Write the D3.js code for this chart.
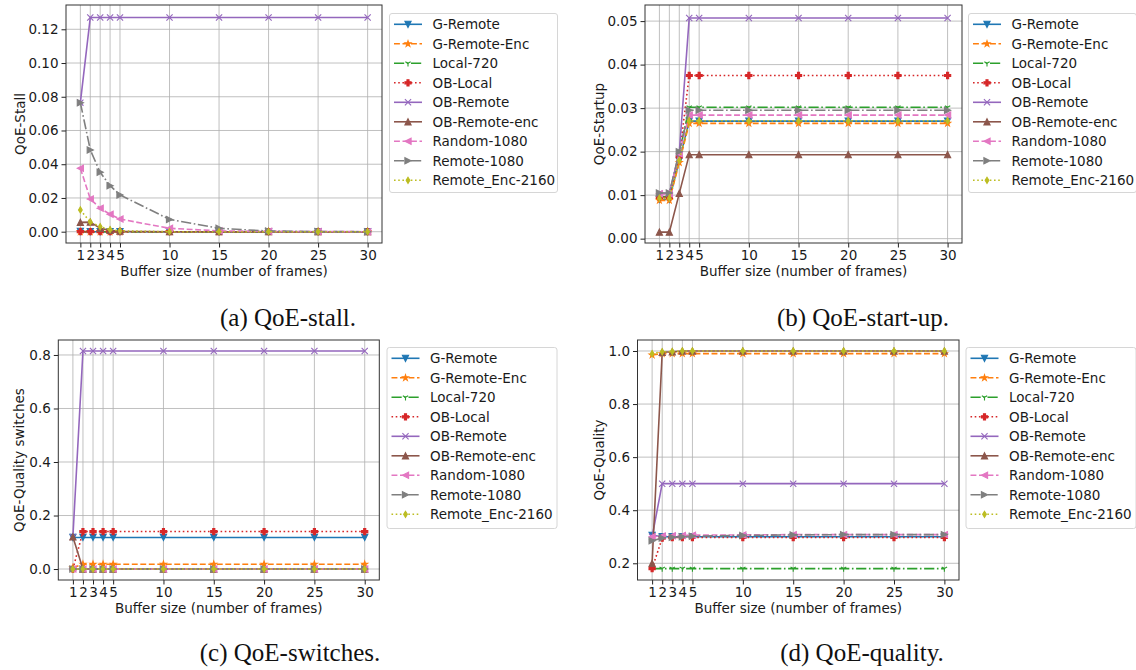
<!DOCTYPE html>
<html><head><meta charset="utf-8">
<script src="https://cdn.jsdelivr.net/npm/d3@7"></script>
<style>
html,body{margin:0;padding:0;background:#fff;}
svg{display:block;}
text{font-family:"DejaVu Sans",sans-serif;}
.cap{font-family:"Liberation Serif","DejaVu Serif",serif;}
</style></head>
<body>
<svg id="chart" width="1136" height="670"></svg>
<script>
// ---------------- data ----------------
const xValues = [1, 2, 3, 4, 5, 10, 15, 20, 25, 30];
const seriesNames = ['G-Remote','G-Remote-Enc','Local-720','OB-Local','OB-Remote','OB-Remote-enc','Random-1080','Remote-1080','Remote_Enc-2160'];

// QoE-stall (order = seriesNames)
const stallValues = [
  [0.0002,0,0,0,0,0,0,0,0,0],
  [0,0,0,0,0,0,0,0,0,0],
  [0,0,0,0,0,0,0,0,0,0],
  [0,0,0,0,0,0,0,0,0,0],
  [0.0765,0.127,0.127,0.127,0.127,0.127,0.127,0.127,0.127,0.127],
  [0.0055,0.0057,0.002,0.0008,0.0003,0,0,0,0,0],
  [0.0376,0.0194,0.0139,0.0103,0.0075,0.002,0.0005,0.0002,0.0001,0],
  [0.0765,0.0485,0.0352,0.0273,0.0218,0.0073,0.002,0.0004,0.0001,0],
  [0.0129,0.0058,0.003,0.0012,0.0005,0,0,0,0,0]
];
// QoE-startup
const startupValues = [
  [0.009,0.009,0.018,0.027,0.027,0.027,0.027,0.027,0.027,0.027],
  [0.0088,0.0088,0.0175,0.0265,0.0265,0.0265,0.0265,0.0265,0.0265,0.0265],
  [0.0096,0.0096,0.0195,0.0302,0.0302,0.0302,0.0302,0.0302,0.0302,0.0302],
  [0.0095,0.0095,0.0188,0.0375,0.0375,0.0375,0.0375,0.0375,0.0375,0.0375],
  [0.0104,0.0104,0.0198,0.0507,0.0507,0.0507,0.0507,0.0507,0.0507,0.0507],
  [0.0015,0.0015,0.0104,0.0193,0.0193,0.0193,0.0193,0.0193,0.0193,0.0193],
  [0.0103,0.0103,0.0195,0.0284,0.0284,0.0284,0.0284,0.0284,0.0284,0.0284],
  [0.0105,0.0105,0.020,0.0295,0.0295,0.0295,0.0295,0.0295,0.0295,0.0295],
  [0.0093,0.0093,0.018,0.0271,0.0271,0.0271,0.0271,0.0271,0.0271,0.0271]
];
// QoE-Quality switches
const switchValues = [
  [0.118,0.118,0.118,0.118,0.118,0.118,0.118,0.118,0.118,0.118],
  [0.005,0.018,0.018,0.018,0.018,0.018,0.018,0.018,0.018,0.018],
  [0,0,0,0,0,0,0,0,0,0],
  [0,0.14,0.14,0.14,0.14,0.14,0.14,0.14,0.14,0.14],
  [0.12,0.815,0.815,0.815,0.815,0.815,0.815,0.815,0.815,0.815],
  [0.12,0,0,0,0,0,0,0,0,0],
  [0,0,0,0,0,0,0,0,0,0],
  [0,0,0,0,0,0,0,0,0,0],
  [0,0,0,0,0,0,0,0,0,0]
];
// QoE-Quality
const qualityValues = [
  [0.305,0.30,0.30,0.30,0.30,0.30,0.30,0.30,0.30,0.30],
  [0.985,0.99,0.99,0.99,0.99,0.99,0.99,0.99,0.99,0.99],
  [0.18,0.18,0.18,0.18,0.18,0.18,0.18,0.18,0.18,0.18],
  [0.18,0.295,0.297,0.297,0.297,0.297,0.297,0.297,0.297,0.297],
  [0.30,0.50,0.50,0.50,0.50,0.50,0.50,0.50,0.50,0.50],
  [0.20,0.995,0.997,1.0,1.0,1.0,1.0,1.0,1.0,1.0],
  [0.30,0.303,0.304,0.305,0.306,0.307,0.308,0.308,0.308,0.308],
  [0.285,0.295,0.298,0.30,0.302,0.305,0.307,0.308,0.308,0.308],
  [0.99,0.997,0.998,1.0,1.0,1.0,1.0,1.0,1.0,1.0]
];

const stallTicks = [0, 0.02, 0.04, 0.06, 0.08, 0.10, 0.12];
const startupTicks = [0, 0.01, 0.02, 0.03, 0.04, 0.05];
const switchTicks = [0, 0.2, 0.4, 0.6, 0.8];
const qualityTicks = [0.2, 0.4, 0.6, 0.8, 1.0];

const yLabels = ['QoE-Stall', 'QoE-Startup', 'QoE-Quality switches', 'QoE-Quality'];
const captions = ['(a) QoE-stall.', '(b) QoE-start-up.', '(c) QoE-switches.', '(d) QoE-quality.'];
const xLabel = 'Buffer size (number of frames)';

// ---------------- styles ----------------
const colors = ['#1f77b4','#ff7f0e','#2ca02c','#d62728','#9467bd','#8c564b','#e377c2','#7f7f7f','#bcbd22'];
const markers = ['v','*','1','P','x','^','<','>','d'];
const dashStyles = ['solid','dashed','dashdot','dotted','solid','solid','dashed','dashdot','dotted'];
const dashArr = {solid:null, dashed:'5.9,2.6', dashdot:'10.2,2.6,1.6,2.6', dotted:'1.6,2.6'};

// ---------------- layout ----------------
const panels = [
  {values: stallValues, ticks: stallTicks, fmt: '.2f', frame:{l:66, r:382, t:5, b:243}, ylim:[-0.0067, 0.1344],
   legend:{x:389.5, y:13.5, w:168, h:179}, capX:288, capY:326, ylabX:20},
  {values: startupValues, ticks: startupTicks, fmt: '.2f', frame:{l:645, r:962, t:5, b:243}, ylim:[-0.001, 0.0537],
   legend:{x:968.5, y:13.5, w:168, h:179}, capX:863, capY:326, ylabX:599},
  {values: switchValues, ticks: switchTicks, fmt: '.1f', frame:{l:58.3, r:379.3, t:340, b:580}, ylim:[-0.041, 0.856],
   legend:{x:387, y:347.5, w:170, h:181}, capX:290, capY:661, ylabX:19},
  {values: qualityValues, ticks: qualityTicks, fmt: '.1f', frame:{l:637.5, r:959, t:340, b:580}, ylim:[0.137, 1.0414],
   legend:{x:966, y:347.5, w:170, h:181}, capX:862, capY:661, ylabX:599}
];

const svg = d3.select('#chart');

function markerPath(m, s) {
  const h = s / 2;
  switch (m) {
    case 'v': return `M${-h},${-h}L${h},${-h}L0,${h}Z`;
    case '^': return `M${-h},${h}L${h},${h}L0,${-h}Z`;
    case '<': return `M${h},${-h}L${h},${h}L${-h},0Z`;
    case '>': return `M${-h},${-h}L${-h},${h}L${h},0Z`;
    case 'd': { const w = h * 0.6; return `M0,${-h}L${w},0L0,${h}L${-w},0Z`; }
    case 'P': { const a = s / 6; return `M${-a},${-h}L${a},${-h}L${a},${-a}L${h},${-a}L${h},${a}L${a},${a}L${a},${h}L${-a},${h}L${-a},${a}L${-h},${a}L${-h},${-a}L${-a},${-a}Z`; }
    case '*': {
      let p = '';
      for (let i = 0; i < 10; i++) {
        const r = i % 2 === 0 ? h : h * 0.381966;
        const ang = -Math.PI / 2 + i * Math.PI / 5;
        p += (i === 0 ? 'M' : 'L') + (r * Math.cos(ang)).toFixed(2) + ',' + (r * Math.sin(ang)).toFixed(2);
      }
      return p + 'Z';
    }
    case 'x': return `M${-h},${-h}L${h},${h}M${-h},${h}L${h},${-h}`;
    case '1': { const c = Math.cos(Math.PI/6)*h, sn = Math.sin(Math.PI/6)*h; return `M0,0L0,${h}M0,0L${-c},${-sn}M0,0L${c},${-sn}`; }
  }
}
function drawMarker(g, m, color, x, y) {
  const s = 6.2;
  const open = (m === 'x' || m === '1');
  g.append('path').attr('transform', `translate(${x},${y})`).attr('d', markerPath(m, s))
    .attr('fill', open ? 'none' : color).attr('stroke', color).attr('stroke-width', 1.1)
    .attr('stroke-linejoin', 'miter');
}

panels.forEach((p, pi) => {
  const f = p.frame;
  const x = d3.scaleLinear().domain([-0.45, 31.45]).range([f.l, f.r]);
  const y = d3.scaleLinear().domain(p.ylim).range([f.b, f.t]);
  const g = svg.append('g');

  const clipId = 'clip' + pi;
  svg.append('clipPath').attr('id', clipId).append('rect')
    .attr('x', f.l).attr('y', f.t).attr('width', f.r - f.l).attr('height', f.b - f.t);

  // grid
  const grid = g.append('g');
  xValues.forEach(v => grid.append('line').attr('x1', x(v)).attr('x2', x(v)).attr('y1', f.t).attr('y2', f.b)
    .attr('stroke', '#b0b0b0').attr('stroke-width', 1).attr('stroke-opacity', 0.8));
  p.ticks.forEach(v => grid.append('line').attr('x1', f.l).attr('x2', f.r).attr('y1', y(v)).attr('y2', y(v))
    .attr('stroke', '#b0b0b0').attr('stroke-width', 1).attr('stroke-opacity', 0.8));

  // series
  const lines = g.append('g').attr('clip-path', `url(#${clipId})`);
  const lineGen = d3.line().x((d, i) => x(xValues[i])).y(d => y(d));
  p.values.forEach((vals, si) => {
    const sg = lines.append('g');
    sg.append('path').attr('d', lineGen(vals)).attr('fill', 'none').attr('stroke', colors[si])
      .attr('stroke-width', 1.6).attr('stroke-dasharray', dashArr[dashStyles[si]]);
    vals.forEach((v, i) => drawMarker(sg, markers[si], colors[si], x(xValues[i]), y(v)));
  });

  // axes via d3
  const xAxis = d3.axisBottom(x).tickValues(xValues).tickSize(4.5).tickPadding(3).tickFormat(d3.format('d'));
  const yAxis = d3.axisLeft(y).tickValues(p.ticks).tickSize(4.5).tickPadding(3).tickFormat(d3.format(p.fmt));
  const gx = g.append('g').attr('transform', `translate(0,${f.b})`).call(xAxis);
  const gy = g.append('g').attr('transform', `translate(${f.l},0)`).call(yAxis);
  [gx, gy].forEach(a => {
    a.select('.domain').remove();
    a.selectAll('.tick line').attr('stroke', '#222').attr('stroke-width', 1);
    a.selectAll('.tick text').attr('fill', '#1a1a1a').style('font-size', '13.5px').style('font-family', '"DejaVu Sans",sans-serif');
  });

  // frame
  g.append('rect').attr('x', f.l).attr('y', f.t).attr('width', f.r - f.l).attr('height', f.b - f.t)
    .attr('fill', 'none').attr('stroke', '#333').attr('stroke-width', 1);

  // labels
  g.append('text').attr('x', (f.l + f.r) / 2).attr('y', f.b + 33).attr('text-anchor', 'middle')
    .style('font-size', '13.5px').attr('fill', '#1a1a1a').text(xLabel);
  g.append('text').attr('transform', `translate(${p.ylabX},${(f.t + f.b) / 2}) rotate(-90)`)
    .attr('text-anchor', 'middle').attr('dominant-baseline', 'central')
    .style('font-size', '13.5px').attr('fill', '#1a1a1a').text(yLabels[pi]);

  // legend
  const L = p.legend;
  const lg = svg.append('g');
  lg.append('rect').attr('x', L.x).attr('y', L.y).attr('width', L.w).attr('height', L.h).attr('rx', 2.5)
    .attr('fill', '#fff').attr('fill-opacity', 0.8).attr('stroke', '#d6d6d6').attr('stroke-width', 1);
  seriesNames.forEach((name, si) => {
    const ry = L.y + 10.8 + si * 19.5;
    const hx0 = L.x + 4.5, hx1 = L.x + 32.5;
    lg.append('line').attr('x1', hx0).attr('x2', hx1).attr('y1', ry).attr('y2', ry)
      .attr('stroke', colors[si]).attr('stroke-width', 1.6).attr('stroke-dasharray', dashArr[dashStyles[si]]);
    drawMarker(lg, markers[si], colors[si], (hx0 + hx1) / 2, ry);
    lg.append('text').attr('x', L.x + 43).attr('y', ry).attr('dominant-baseline', 'central')
      .style('font-size', '13.5px').attr('fill', '#1a1a1a').text(name);
  });

  // caption
  svg.append('text').attr('class', 'cap').attr('x', p.capX).attr('y', p.capY).attr('text-anchor', 'middle')
    .style('font-size', '25px').attr('fill', '#111').text(captions[pi]);
});
</script>
</body></html>
